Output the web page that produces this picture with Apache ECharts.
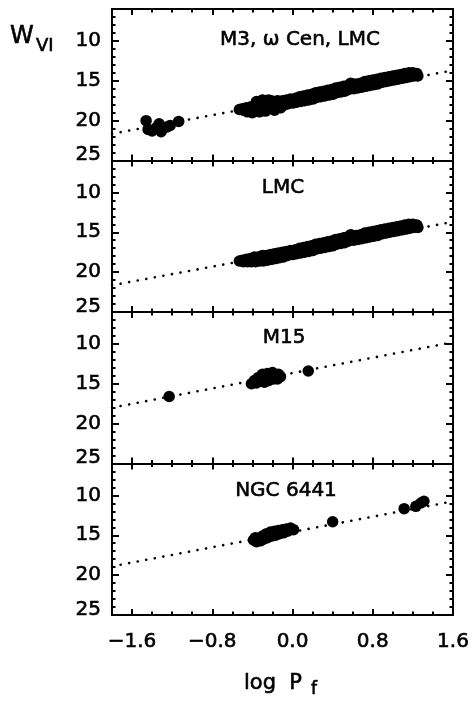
<!DOCTYPE html>
<html>
<head>
<meta charset="utf-8">
<script src="https://cdn.jsdelivr.net/npm/echarts@6/dist/echarts.min.js"></script>
<style>
html,body{margin:0;padding:0;background:#fff;}
#chart{width:474px;height:702px;}
</style>
</head>
<body>
<div id="chart"></div>
<script>
// ---------------- data ----------------
const panelTitles = ['M3, \u03c9 Cen, LMC', 'LMC', 'M15', 'NGC 6441'];
const xTickLabels = [-1.6, -0.8, 0.0, 0.8, 1.6];
const yTickLabels = [10, 15, 20, 25];

// LMC RR Lyrae (log Pf, W_VI)
const lmc = [
  [-0.53,18.6],[-0.50,18.5],[-0.49,18.7],[-0.46,18.4],[-0.45,18.7],[-0.42,18.3],[-0.41,18.7],[-0.38,18.1],
  [-0.37,18.7],[-0.34,18.1],[-0.33,18.6],[-0.30,17.9],[-0.29,18.6],[-0.26,17.9],[-0.25,18.5],[-0.22,17.8],
  [-0.21,18.4],[-0.18,17.7],[-0.17,18.3],[-0.14,17.6],[-0.13,18.2],[-0.10,17.5],[-0.09,18.1],[-0.06,17.4],
  [-0.05,17.9],[-0.02,17.3],[0.00,17.8],[0.03,17.2],[0.04,17.7],[0.07,17.0],[0.08,17.6],[0.11,16.9],
  [0.12,17.5],[0.15,16.8],[0.16,17.4],[0.19,16.7],[0.20,17.3],[0.23,16.5],[0.24,17.1],[0.27,16.4],
  [0.28,17.0],[0.31,16.3],[0.32,16.9],[0.35,16.2],[0.36,16.8],[0.39,16.1],[0.40,16.7],[0.43,15.9],
  [0.44,16.5],[0.47,15.8],[0.48,16.4],[0.51,15.7],[0.52,16.3],[0.55,15.6],[0.56,16.1],[0.58,15.3],
  [0.60,15.4],[0.61,16.0],[0.64,15.4],[0.65,15.9],[0.68,15.3],[0.69,15.8],[0.72,15.1],[0.73,15.7],
  [0.76,15.0],[0.77,15.6],[0.80,14.9],[0.81,15.5],[0.84,14.8],[0.85,15.4],[0.88,14.7],[0.89,15.2],
  [0.92,14.6],[0.93,15.1],[0.96,14.5],[0.97,15.0],[1.00,14.4],[1.01,14.9],[1.04,14.3],[1.05,14.8],
  [1.08,14.2],[1.09,14.7],[1.12,14.1],[1.13,14.6],[1.16,14.0],[1.17,14.5],[1.20,14.0],[1.21,14.4],
  [1.24,14.1],[1.25,14.4]
];
// M3 + omega Cen shifted to the LMC (extra points of panel 1)
const m3wcen = [
  [-1.46,20.0],[-1.44,21.1],[-1.40,21.3],[-1.36,20.9],[-1.33,20.4],[-1.31,21.4],[-1.25,20.8],[-1.22,20.6],[-1.135,20.1],
  [-0.45,18.9],[-0.40,19.0],[-0.36,17.6],[-0.33,18.9],[-0.30,17.4],[-0.27,18.8],[-0.24,17.4],[-0.21,17.5],
  [-0.18,18.7],[-0.15,17.5],[-0.12,18.4]
];
const m15 = [
  [-1.23,16.6],[-0.41,15.0],[-0.38,14.6],[-0.36,14.9],[-0.34,14.2],[-0.31,14.7],[-0.30,13.8],[-0.28,14.8],
  [-0.27,14.4],[-0.25,13.7],[-0.24,14.6],[-0.22,14.3],[-0.20,13.6],[-0.19,14.4],[-0.17,14.0],[-0.15,14.4],
  [-0.14,13.8],[-0.12,14.1],[0.157,13.4]
];
const ngc6441 = [
  [-0.39,15.6],[-0.37,15.3],[-0.36,15.8],[-0.34,15.4],[-0.32,15.7],[-0.30,15.1],[-0.29,15.5],[-0.26,14.8],
  [-0.25,15.3],[-0.22,14.6],[-0.21,15.1],[-0.18,14.5],[-0.17,15.0],[-0.14,14.4],[-0.13,14.8],[-0.10,14.3],
  [-0.09,14.7],[-0.06,14.2],[-0.05,14.5],[-0.02,14.1],[0.01,14.3],
  [0.40,13.3],[1.113,11.66],[1.23,11.37],[1.28,10.95],[1.31,10.74]
];
// dotted PL relations
const fitLMC = [[-1.8,21.65],[1.6,13.7]];
const fitM15 = [[-1.8,18.0],[1.6,9.8]];
const fitN6441 = [[-1.8,18.9],[1.6,10.75]];

// ---------------- layout / style ----------------
const FONT = 'DejaVu Sans, Liberation Sans, sans-serif';
const xMin = -1.8, xMax = 1.6, yMin = 6, yMax = 25;
const panelTops = [9, 160.5, 312, 463.5];
const panelH = 151.5;
const gridLeft = 112, gridRight = 21;
const panelData = [[lmc, m3wcen], [lmc], [m15], [ngc6441]];
const panelFits = [fitLMC, fitLMC, fitM15, fitN6441];
const titlePos = [[300, 40], [283, 188], [284, 338], [286, 491]];

const black = '#000';
const TB = 0.6; // slight stroke to mimic the heavy plot font
const grids = [], xAxes = [], yAxes = [], series = [], graphics = [];

function fmtX(v) {
  const s = Math.abs(v).toFixed(1);
  return v < -1e-9 ? '\u2212' + s : s;
}
function txt(x, y, text, size, align) {
  return {type: 'text', x: x, y: y,
    style: {text: text, textAlign: align, textVerticalAlign: 'middle', align: align, verticalAlign: 'middle',
      fontSize: size, fontFamily: FONT, fill: black, stroke: black, lineWidth: TB}};
}

panelTops.forEach((top, i) => {
  grids.push({left: gridLeft, right: gridRight, top: top, height: panelH, containLabel: false});
  const xb = {type: 'value', gridIndex: i, min: xMin, max: xMax, splitLine: {show: false},
    axisLabel: {show: false}, axisTick: {show: false}, axisLine: {show: false, onZero: false}};
  ['bottom', 'top'].forEach(pos => {
    xAxes.push(Object.assign({}, xb, {position: pos, interval: 0.2,
      axisLine: {show: true, onZero: false, lineStyle: {color: black, width: 2}},
      axisTick: {show: true, inside: true, length: 3.5, lineStyle: {color: black, width: 2}}}));
    xAxes.push(Object.assign({}, xb, {position: pos,
      axisLine: {show: false, onZero: false},
      axisTick: {show: true, inside: true, length: 6, customValues: xTickLabels, lineStyle: {color: black, width: 2}},
      axisLabel: {show: pos === 'bottom' && i === 3, customValues: xTickLabels, formatter: fmtX,
        margin: 17, fontSize: 20, color: black, fontFamily: FONT, textBorderColor: black, textBorderWidth: TB}}));
  });
  const yb = {type: 'value', gridIndex: i, min: yMin, max: yMax, inverse: true, splitLine: {show: false},
    axisLabel: {show: false}, axisTick: {show: false}, axisLine: {show: false, onZero: false}};
  ['left', 'right'].forEach(pos => {
    yAxes.push(Object.assign({}, yb, {position: pos, interval: 1,
      axisLine: {show: true, onZero: false, lineStyle: {color: black, width: 2}},
      axisTick: {show: true, inside: true, length: 3.5, lineStyle: {color: black, width: 2}}}));
    yAxes.push(Object.assign({}, yb, {position: pos,
      axisLine: {show: false, onZero: false},
      axisTick: {show: true, inside: true, length: 7, customValues: yTickLabels, lineStyle: {color: black, width: 2}},
      axisLabel: {show: pos === 'left', customValues: yTickLabels,
        formatter: v => (v === 25 ? '{u|25}' : String(v)),
        rich: {u: {padding: [0, 0, 11, 0], fontSize: 20, fontFamily: FONT, color: black,
          textBorderColor: black, textBorderWidth: TB}},
        margin: 11, fontSize: 20, color: black, fontFamily: FONT, textBorderColor: black, textBorderWidth: TB}}));
  });
  series.push({type: 'line', xAxisIndex: 4 * i, yAxisIndex: 4 * i, data: panelFits[i],
    symbol: 'none', showSymbol: false, silent: true, z: 1,
    lineStyle: {color: black, width: 2.6, type: [0.1, 8.6], cap: 'round'}});
  panelData[i].forEach(d => {
    series.push({type: 'scatter', xAxisIndex: 4 * i, yAxisIndex: 4 * i, data: d,
      symbol: 'circle', symbolSize: 11.5, itemStyle: {color: black, opacity: 1}, z: 2, silent: true});
  });
  graphics.push(txt(titlePos[i][0], titlePos[i][1], panelTitles[i], 20, 'center'));
});

// axis titles
graphics.push(txt(10, 36.5, 'W', 24, 'left'));
graphics.push(txt(36, 46.5, 'VI', 18, 'left'));
graphics.push(txt(244, 684, 'log  P', 21, 'left'));
graphics.push(txt(311, 690, 'f', 17, 'left'));

const chart = echarts.init(document.getElementById('chart'), null, {renderer: 'canvas'});
chart.setOption({
  animation: false,
  backgroundColor: '#fff',
  grid: grids,
  xAxis: xAxes,
  yAxis: yAxes,
  series: series,
  graphic: graphics
});
</script>
</body>
</html>
